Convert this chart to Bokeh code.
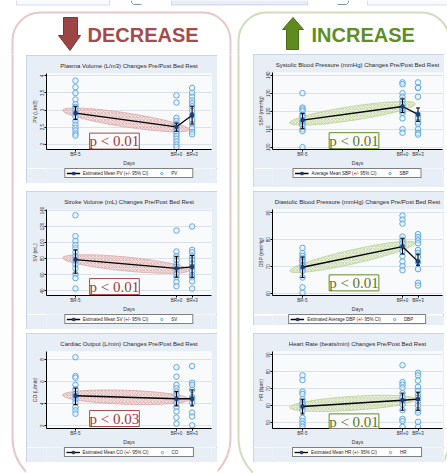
import math
from bokeh.plotting import figure
from bokeh.models import Range1d, FixedTicker, Legend, LegendItem, Label, BoxAnnotation, Spacer
from bokeh.layouts import column, row
from bokeh.embed import file_html
from bokeh.resources import INLINE

# ---------------- data ----------------
days = ["BR-5", "BR+0", "BR+3"]
day_pos = [0.0, 1.0, 1.155]

pv_br5 = [3.86, 3.67, 3.50, 3.31, 3.17, 3.09, 3.00, 2.91, 2.81, 2.68, 2.57, 2.48, 2.40, 2.31, 2.25]
pv_br0 = [3.43, 3.22, 2.77, 2.68, 2.59, 2.53, 2.47, 2.38, 2.31, 2.24, 2.16, 2.08, 1.99, 1.92]
pv_br3 = [3.65, 3.50, 3.39, 3.28, 3.20, 3.11, 2.98, 2.85, 2.71, 2.59, 2.47, 2.36, 2.29]
pv_mean = [2.91, 2.51, 2.85]
pv_lo = [2.72, 2.38, 2.59]
pv_hi = [3.11, 2.62, 3.11]
pv_ticks = [2, 2.5, 3, 3.5, 4]

sv_br5 = [134, 108, 102, 97, 93, 88, 83, 78, 73, 68, 61, 56, 43]
sv_br0 = [115, 89, 83, 78, 73, 70, 66, 61, 57, 51, 46]
sv_br3 = [120, 91, 88, 83, 79, 74, 70, 65, 60, 57, 52, 43]
sv_mean = [79, 68, 70]
sv_lo = [62, 57, 57]
sv_hi = [91, 83, 84]
sv_ticks = [40, 60, 80, 100, 120, 140]

co_br5 = [8.2, 6.5, 6.35, 5.7, 5.3, 4.9, 4.7, 4.4, 4.1, 3.7, 3.4, 3.1]
co_br0 = [7.3, 6.45, 5.7, 5.4, 5.1, 4.8, 4.4, 4.1, 3.7, 3.3, 2.75, 2.2]
co_br3 = [7.4, 5.9, 5.7, 5.25, 4.6, 4.45, 4.1, 3.2, 2.85, 2.05]
co_mean = [4.72, 4.45, 4.45]
co_lo = [3.92, 3.8, 3.8]
co_hi = [5.41, 5.1, 5.25]
co_ticks = [2, 4, 6, 8]

sbp_br5 = [130, 122, 121, 120, 118, 117, 115, 114, 113, 112, 110, 109, 100]
sbp_br0 = [136, 135, 130, 128, 126, 124, 122, 121, 120, 119, 116, 110, 108]
sbp_br3 = [136, 133, 133, 128, 118, 116, 114, 113, 110, 108, 107]
sbp_mean = [115, 122.6, 118.2]
sbp_lo = [110.2, 119.3, 114.4]
sbp_hi = [118.8, 126.8, 121.8]
sbp_ticks = [100, 110, 120, 130, 140]

dbp_br5 = [77, 75, 74, 73, 72.4, 71.7, 70.7, 70.2, 69.4, 68.5, 66, 62.3, 60.3]
dbp_br0 = [89, 87.5, 86, 81.2, 80, 78.7, 77.5, 75.8, 73.9, 71.9, 70.2, 68.7]
dbp_br3 = [82.1, 81, 79.8, 78.7, 76.2, 75.1, 73.6, 71.7, 69.1, 64, 63]
dbp_mean = [69.8, 77.5, 71.9]
dbp_lo = [66, 74.7, 70.5]
dbp_hi = [73.6, 80.4, 74.7]
dbp_ticks = [60, 70, 80, 90]

hr_br5 = [77.9, 75.1, 68.3, 66.9, 63.8, 61.9, 60.6, 59.2, 57.3, 52.8, 50.9, 49.1, 47.5]
hr_br0 = [83.9, 73.9, 72.4, 70.6, 67.4, 65, 62.8, 60.6, 57.3, 52.2, 50.9, 47.5]
hr_br3 = [79.4, 77.9, 74.8, 71.1, 68.7, 66.1, 64.7, 62.5, 60.1, 57.3, 55.9, 50.4, 47.5]
hr_mean = [59.5, 63.2, 63.8]
hr_lo = [55.1, 57.3, 57.3]
hr_hi = [63.8, 67.4, 68.0]
hr_ticks = [50, 60, 70, 80, 90]

# ---------------- styles ----------------
RED = "#a54b4b"
GREEN = "#628c25"
PANEL_BG = "#e8eef5"
PANEL_LINE = "#bfcde2"
FRAME_BG = "#f8fafc"
GRID = "#d9e1eb"
PT_LINE = "#62a9e4"
PT_FILL = "#e4f0fb"
MEAN_MK = "#1f3d78"
FONT = "Liberation Sans"
PAGE_H = 473


def make_chart(title, ylabel, groups, mean, lo, hi, mean_label, pt_label,
               yticks, yrange, xrange_, w, h, borders, leg_h, leg_borders,
               theme, ptext, pxy):
    bl, br, bt, bb = borders
    p = figure(width=w, height=h, x_range=Range1d(*xrange_), y_range=Range1d(*yrange),
               output_backend="svg", toolbar_location=None, title=title,
               min_border_left=bl, min_border_right=br,
               min_border_top=bt, min_border_bottom=bb)
    p.border_fill_color = PANEL_BG
    p.background_fill_color = FRAME_BG
    p.outline_line_color = None
    p.xgrid.grid_line_color = None
    p.ygrid.grid_line_color = GRID
    p.ygrid.grid_line_width = 1
    yt = FixedTicker(ticks=yticks)
    p.yaxis.ticker = yt
    p.ygrid.ticker = yt
    p.yaxis.major_label_overrides = {t: f"{t:g}" for t in yticks}
    p.xaxis.ticker = FixedTicker(ticks=day_pos)
    p.xaxis.major_label_overrides = {pos: d for pos, d in zip(day_pos, days)}
    p.yaxis.major_label_orientation = "vertical"
    p.xaxis.axis_label = "Days"
    p.yaxis.axis_label = ylabel
    for ax in (p.xaxis[0], p.yaxis[0]):
        ax.axis_line_color = "black"
        ax.axis_line_width = 1
        ax.major_tick_line_color = "black"
        ax.major_tick_out = 2
        ax.major_tick_in = 0
        ax.minor_tick_line_color = None
        ax.major_label_text_font = FONT
        ax.major_label_text_font_size = "4.5px"
        ax.major_label_text_color = "#333333"
        ax.major_label_standoff = 0
        ax.axis_label_text_font = FONT
        ax.axis_label_text_font_size = "5px"
        ax.axis_label_text_font_style = "normal"
        ax.axis_label_text_color = "#333333"
        ax.axis_label_standoff = 0
    p.title.text_font = FONT
    p.title.text_font_size = "6px"
    p.title.text_font_style = "normal"
    p.title.text_color = "#2a2a2a"
    p.title.align = "center"

    # hatched band along the BR-5 -> BR+0 change
    fw = w - bl - br
    fh = h - bt - bb
    sx = fw / (xrange_[1] - xrange_[0])
    sy = fh / (yrange[1] - yrange[0])
    dxp = (day_pos[1] - day_pos[0]) * sx
    dyp = (mean[1] - mean[0]) * sy
    ang = math.atan2(dyp, dxp)
    length = math.hypot(dxp, dyp) + 26
    if theme == "red":
        hc, fc, lc = "#c46b6b", "#f4e2e2", "#dcaaaa"
    else:
        hc, fc, lc = "#93b35a", "#eaf1dc", "#bcd196"
    p.ellipse(x=[(day_pos[0] + day_pos[1]) / 2], y=[(mean[0] + mean[1]) / 2],
              width=[length], height=[14], angle=[ang],
              width_units="screen", height_units="screen",
              fill_color=fc, fill_alpha=0.7, line_color=lc, line_width=0.8,
              hatch_pattern="diagonal_cross", hatch_color=hc, hatch_scale=3.5,
              hatch_weight=0.6, hatch_alpha=0.85)

    xs, ys = [], []
    for pos, g in zip(day_pos, groups):
        xs += [pos] * len(g)
        ys += list(g)
    p.scatter(xs, ys, marker="circle", size=5.5, line_color=PT_LINE, line_width=1.0,
              fill_color=PT_FILL, fill_alpha=0.5)

    p.segment(day_pos, lo, day_pos, hi, line_color="black", line_width=1.1)
    p.scatter(day_pos, lo, marker="dash", size=4, line_color="black", line_width=1)
    p.scatter(day_pos, hi, marker="dash", size=4, line_color="black", line_width=1)
    p.line(day_pos, mean, line_color="black", line_width=1.3)
    p.scatter(day_pos, mean, marker="square", size=3, fill_color=MEAN_MK, line_color=MEAN_MK)

    tcol = "#9b3a3a" if theme == "red" else "#557a1c"
    bcol = RED if theme == "red" else GREEN
    p.add_layout(Label(x=pxy[0], y=pxy[1], text=ptext, text_align="center",
                       text_baseline="middle", text_font="Liberation Serif",
                       text_font_size="15px", text_color=tcol,
                       background_fill_color="#fdfbfb", background_fill_alpha=1,
                       border_line_color=bcol, border_line_width=1))

    # legend strip below the chart (same panel); its glyphs repeat the chart's data
    # but the strip's ranges keep them out of view, so only the legend shows
    lg = figure(width=w, height=leg_h, x_range=Range1d(-100, -99), y_range=Range1d(-100, -99),
                output_backend="svg", toolbar_location=None,
                min_border_left=leg_borders[0], min_border_right=leg_borders[1],
                min_border_top=0, min_border_bottom=0,
                x_axis_type=None, y_axis_type=None)
    lg.grid.visible = False
    lg.outline_line_color = None
    lg.border_fill_color = PANEL_BG
    lg.background_fill_color = PANEL_BG
    ln = lg.line(day_pos, mean, line_color="black", line_width=1.3)
    mk = lg.scatter(day_pos, mean, marker="square", size=3, fill_color=MEAN_MK,
                    line_color=MEAN_MK)
    sc = lg.scatter(xs, ys, marker="circle", size=5.5, line_color=PT_LINE, line_width=1.0,
                    fill_color=PT_FILL, fill_alpha=0.5)
    legend = Legend(items=[LegendItem(label=mean_label, renderers=[ln, mk]),
                           LegendItem(label=pt_label, renderers=[sc])],
                    orientation="horizontal", location="top",
                    label_text_font=FONT, label_text_font_size="4.5px",
                    label_text_color="#222222",
                    glyph_height=6, glyph_width=14, label_height=5,
                    label_standoff=3, spacing=6, padding=1, margin=0,
                    border_line_color="black", border_line_width=1,
                    background_fill_color="white", background_fill_alpha=1)
    lg.add_layout(legend)
    return column(p, lg, styles={"outline": "1px solid " + PANEL_LINE,
                                 "outline-offset": "-1px"})


LX = (-0.287, 1.347)
RX = (-0.30, 1.40)

L1 = make_chart("Plasma Volume (L/m3) Changes Pre/Post Bed Rest", "PV (L/m3)",
                [pv_br5, pv_br0, pv_br3], pv_mean, pv_lo, pv_hi,
                "Estimated Mean PV (+/- 95% CI)", "PV", pv_ticks, (1.845, 4.07), LX,
                191, 113, (20, 6, 13, 14), 15, (14, 0), "red", "p < 0.01", (0.386, 2.09))
L2 = make_chart("Stroke Volume (mL) Changes Pre/Post Bed Rest", "SV (mL)",
                [sv_br5, sv_br0, sv_br3], sv_mean, sv_lo, sv_hi,
                "Estimated Mean SV (+/- 95% CI)", "SV", sv_ticks, (34.4, 141.1), LX,
                191, 123, (20, 6, 13, 14), 15, (14, 0), "red", "p < 0.01", (0.386, 45.5))
L3 = make_chart("Cardiac Output (L/min) Changes Pre/Post Bed Rest", "CO (L/min)",
                [co_br5, co_br0, co_br3], co_mean, co_lo, co_hi,
                "Estimated Mean CO (+/- 95% CI)", "CO", co_ticks, (1.76, 8.72), LX,
                191, 114, (20, 6, 13, 14), 15, (14, 0), "red", "p < 0.03", (0.386, 2.66))
R1 = make_chart("Systolic Blood Pressure (mmHg) Changes Pre/Post Bed Rest", "SBP (mmHg)",
                [sbp_br5, sbp_br0, sbp_br3], sbp_mean, sbp_lo, sbp_hi,
                "Average Mean SBP (+/- 95% CI)", "SBP", sbp_ticks, (98.7, 141.5), RX,
                191, 114, (19, 2, 13, 15), 19, (9, 0), "green", "p < 0.01", (0.515, 103.6))
R2 = make_chart("Diastolic Blood Pressure (mmHg) Changes Pre/Post Bed Rest", "DBP (mmHg)",
                [dbp_br5, dbp_br0, dbp_br3], dbp_mean, dbp_lo, dbp_hi,
                "Estimated Average DBP (+/- 95% CI)", "DBP", dbp_ticks, (59.3, 91.26), RX,
                191, 123, (19, 2, 12, 17), 11, (9, 0), "green", "p < 0.01", (0.515, 64.0))
R3 = make_chart("Heart Rate (beats/min) Changes Pre/Post Bed Rest", "HR (bpm)",
                [hr_br5, hr_br0, hr_br3], hr_mean, hr_lo, hr_hi,
                "Estimated Mean HR (+/- 95% CI)", "HR", hr_ticks, (46.5, 92.0), RX,
                191, 114, (19, 2, 14, 19), 15, (9, 0), "green", "p < 0.01", (0.515, 50.4))


# ---------------- decoration pieces (page-pixel coordinates) ----------------
def Y(v):
    return PAGE_H - v


def deco(x0, y0, w, h):
    f = figure(width=w, height=h, x_range=Range1d(x0, x0 + w),
               y_range=Range1d(Y(y0 + h), Y(y0)),
               output_backend="svg", toolbar_location=None, min_border=0,
               x_axis_type=None, y_axis_type=None)
    f.grid.visible = False
    f.outline_line_color = None
    f.background_fill_color = "white"
    f.border_fill_color = "white"
    f.add_layout(BoxAnnotation(left=12, right=230, top=Y(12), bottom=Y(487),
                               fill_alpha=0, line_color=RED, line_width=2,
                               border_radius=(28, 28, 50, 50)))
    f.add_layout(BoxAnnotation(left=238, right=449, top=Y(12), bottom=Y(487),
                               fill_alpha=0, line_color=GREEN, line_width=2,
                               border_radius=(28, 28, 50, 50)))
    return f


header = deco(0, 0, 447, 54)
# partially visible boxes of the figure above
header.add_layout(BoxAnnotation(left=16, right=109, top=Y(-3), bottom=Y(4.5),
                                fill_color="#eef2f9", line_color="#7d95c6", line_width=1))
header.add_layout(BoxAnnotation(left=171, right=307, top=Y(-3), bottom=Y(4.5),
                                fill_color="#c9d3ea", line_color="#7d95c6", line_width=1))
header.add_layout(BoxAnnotation(left=367, right=452, top=Y(-3), bottom=Y(4.5),
                                fill_color="#eef2f9", line_color="#7d95c6", line_width=1))
header.line([131, 131, 133, 141], [Y(v) for v in [0, 2, 4, 4]], line_color="#7d95c6", line_width=1)
header.line([348, 348, 346, 337], [Y(v) for v in [0, 2, 4, 4]], line_color="#7d95c6", line_width=1)

header.patch([63, 77, 77, 80, 69.5, 58, 63], [Y(v) for v in [17, 17, 35, 35, 50, 35, 35]],
             fill_color="#9c4545", line_color="#7d3232", line_width=1)
header.patch([292.5, 303, 298, 298, 286, 286, 282], [Y(v) for v in [17, 29, 29, 49, 49, 29, 29]],
             fill_color="#5e8a1f", line_color="#4a6d16", line_width=1)

HFONT = "Liberation Sans"
header.add_layout(Label(x=87, y=Y(34.5), text="DECREASE", text_font=HFONT, text_font_size="20px",
                        text_font_style="bold", text_color=RED, text_baseline="middle"))
header.add_layout(Label(x=311, y=Y(34.5), text="INCREASE", text_font=HFONT, text_font_size="20px",
                        text_font_style="bold", text_color=GREEN, text_baseline="middle"))

left_strip = deco(0, 54, 26, 419)
mid_strip = deco(217, 54, 36, 419)
right_strip = deco(444, 54, 3, 419)

left_col = column(Spacer(width=191, height=1), L1, Spacer(width=191, height=8), L2,
                  Spacer(width=191, height=4), L3, Spacer(width=191, height=11))
right_col = column(R1, Spacer(width=191, height=4), R2, Spacer(width=191, height=8), R3,
                   Spacer(width=191, height=11))
body = row(left_strip, left_col, mid_strip, right_col, right_strip)
root = column(header, body)

open("out.html", "w").write(file_html(root, INLINE))
